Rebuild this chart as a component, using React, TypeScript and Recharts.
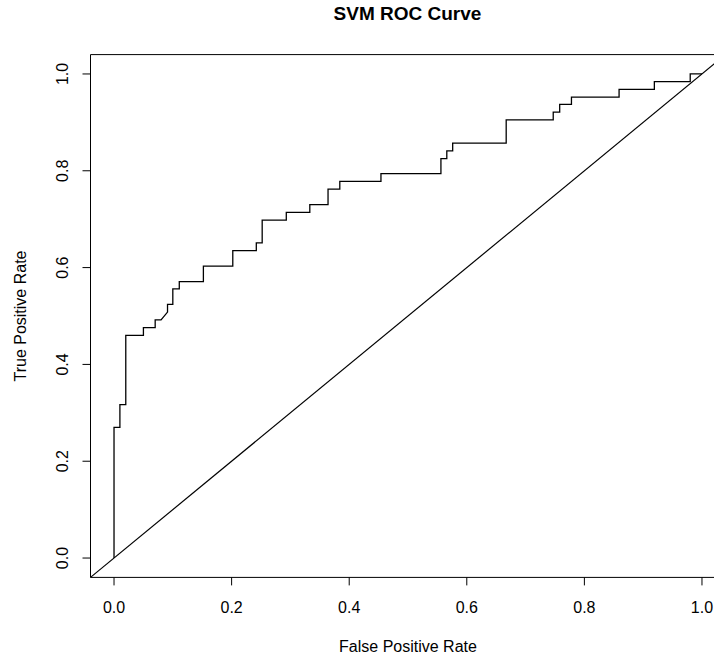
import React from "react";
import {
  LineChart, Line, XAxis, YAxis, ReferenceArea, ReferenceLine, Label,
} from "recharts";

// ROC points (false positive rate, true positive rate)
const FPR = [
  0, 0, 0.01, 0.01, 0.02, 0.02, 0.05, 0.05, 0.07, 0.07, 0.08, 0.091, 0.091, 0.1, 0.1,
  0.111, 0.111, 0.152, 0.152, 0.202, 0.202, 0.242, 0.242, 0.252, 0.252, 0.293, 0.293,
  0.333, 0.333, 0.364, 0.364, 0.384, 0.384, 0.454, 0.454, 0.556, 0.556, 0.566, 0.566,
  0.576, 0.576, 0.667, 0.667, 0.747, 0.747, 0.758, 0.758, 0.778, 0.778, 0.859, 0.859,
  0.919, 0.919, 0.98, 0.98, 1.0,
];
const TPR = [
  0, 0.27, 0.27, 0.317, 0.317, 0.46, 0.46, 0.476, 0.476, 0.492, 0.492, 0.508, 0.524, 0.524, 0.556,
  0.556, 0.571, 0.571, 0.603, 0.603, 0.635, 0.635, 0.651, 0.651, 0.698, 0.698, 0.714,
  0.714, 0.73, 0.73, 0.762, 0.762, 0.778, 0.778, 0.794, 0.794, 0.825, 0.825, 0.841,
  0.841, 0.857, 0.857, 0.905, 0.905, 0.921, 0.921, 0.937, 0.937, 0.952, 0.952, 0.968,
  0.968, 0.984, 0.984, 1.0, 1.0,
];
const TICKS = [0, 0.2, 0.4, 0.6, 0.8, 1.0];
const DOMAIN: [number, number] = [-0.04, 1.04];

const FONT = "'Liberation Sans', Arial, Helvetica, sans-serif";

const data = FPR.map((f, i) => ({ fpr: f, tpr: TPR[i] }));

const YTick = ({ x, y, payload }: any) => (
  <text
    x={x}
    y={y}
    transform={`rotate(-90, ${x}, ${y})`}
    textAnchor="middle"
    fontSize={16}
    fontFamily={FONT}
    fill="#000"
  >
    {Number(payload.value).toFixed(1)}
  </text>
);

export default function App() {
  return (
    <div style={{ position: "absolute", left: 0, top: 0, width: 714, height: 658, overflow: "hidden", background: "#fff" }}>
      <div
        style={{
          position: "absolute", left: 0, width: 815, top: 3, textAlign: "center",
          fontFamily: FONT, fontWeight: "bold", fontSize: 19, color: "#000",
        }}
      >
        SVM ROC Curve
      </div>
      <LineChart width={740} height={658} data={data} margin={{ top: 54.6, right: 14.5, bottom: 0, left: 0 }}>
        <XAxis
          dataKey="fpr"
          type="number"
          domain={DOMAIN}
          ticks={TICKS}
          allowDataOverflow
          axisLine={false}
          tickLine={{ stroke: "#000" }}
          tickSize={8}
          tickMargin={16}
          height={80.6}
          tickFormatter={(v) => Number(v).toFixed(1)}
          tick={{ fontSize: 16, fill: "#000", fontFamily: FONT }}
        >
          <Label
            content={({ viewBox }: any) => (
              <text
                x={viewBox.x + viewBox.width / 2}
                y={viewBox.y + 74.5}
                textAnchor="middle"
                fontSize={16}
                fontFamily={FONT}
                fill="#000"
              >
                False Positive Rate
              </text>
            )}
          />
        </XAxis>
        <YAxis
          dataKey="tpr"
          type="number"
          domain={DOMAIN}
          ticks={TICKS}
          allowDataOverflow
          axisLine={false}
          tickLine={{ stroke: "#000" }}
          tickSize={8}
          tickMargin={14.8}
          width={90.5}
          tick={<YTick />}
        >
          <Label
            content={({ viewBox }: any) => {
              const cx = 25.5;
              const cy = viewBox.y + viewBox.height / 2;
              return (
                <text
                  x={cx}
                  y={cy}
                  transform={`rotate(-90, ${cx}, ${cy})`}
                  textAnchor="middle"
                  fontSize={16}
                  fontFamily={FONT}
                  fill="#000"
                >
                  True Positive Rate
                </text>
              );
            }}
          />
        </YAxis>
        <ReferenceArea x1={-0.04} x2={1.04} y1={-0.04} y2={1.04} fill="none" fillOpacity={0} stroke="#000" strokeWidth={1} ifOverflow="visible" />
        <ReferenceLine
          segment={[{ x: -0.04, y: -0.04 }, { x: 1.04, y: 1.04 }]}
          stroke="#000"
          strokeWidth={1.2}
        />
        <Line type="linear" dataKey="tpr" stroke="#000" strokeWidth={1.3} dot={false} activeDot={false} isAnimationActive={false} />
      </LineChart>
    </div>
  );
}
